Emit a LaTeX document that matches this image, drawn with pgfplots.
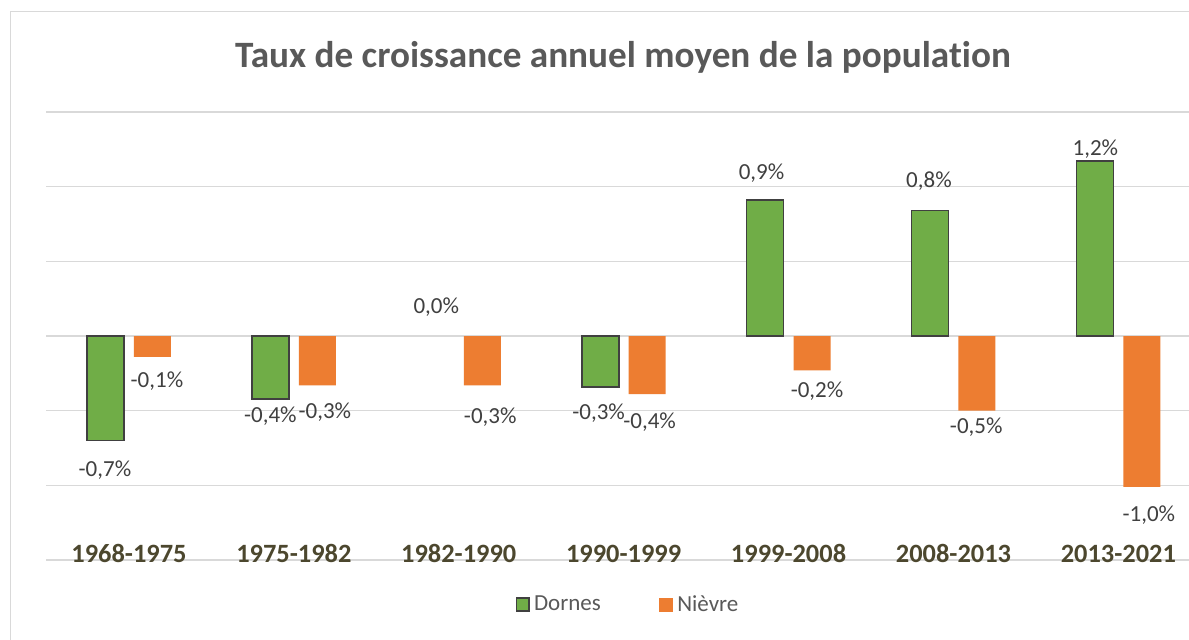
\documentclass[border=0pt]{standalone}
\usepackage{fontspec}
\setmainfont[Ligatures=NoCommon]{Carlito}
\usepackage{pgfplots}
\usepackage{pgfplotstable}
\pgfplotsset{compat=1.18}
\definecolor{dgreen}{HTML}{70AD47}
\definecolor{dorange}{HTML}{ED7D31}
\definecolor{bordergrey}{HTML}{404040}
\definecolor{gridgrey}{HTML}{D9D9D9}
\definecolor{labelgrey}{HTML}{404040}
\definecolor{titlegrey}{HTML}{595959}
\definecolor{catcol}{RGB}{76,71,46}

\pgfplotstableread{
x D N Ddx Ddy Ndx Ndy
0 -0.70 -0.14 -0.25 -18 2.25 -15.5
1 -0.42 -0.33 0 -12 3.75 -16.5
2 nan -0.33 0 0 4 -19
3 -0.34 -0.39 -0.75 -16.5 1.25 -17
4 0.91 -0.23 -1.75 10.5 2.5 -13.5
5 0.84 -0.50 -0.5 11.3 -0.35 -11.65
6 1.17 -1.01 0.25 2.85 3.5 -17.5
}\data

\newcommand{\lblfont}{\fontsize{11.5}{13}\selectfont}

\begin{document}
\begin{tikzpicture}
\useasboundingbox (0,0) rectangle (594.5pt,319.5pt);
\fill[white] (0,0) rectangle (594.5pt,319.5pt);
\clip (0,0) rectangle (594.5pt,319.5pt);
\draw[gridgrey, line width=0.6pt] (5.35pt,-5pt) -- (5.35pt,313.75pt) -- (600pt,313.75pt);
\node[font=\fontsize{18.6}{22}\selectfont\bfseries, text=titlegrey, anchor=base, inner sep=0pt] at (311.5pt,286pt) {Taux de croissance annuel moyen de la population};
\begin{axis}[
  at={(23.25pt,39.5pt)}, anchor=south west,
  scale only axis, width=577.15pt, height=224pt,
  xmin=-0.5, xmax=6.5, ymin=-1.5, ymax=1.5,
  ybar, bar width=18.5pt,
  axis line style={draw=none},
  tick style={draw=none},
  ytick={-1.5,-1,-0.5,0,0.5,1,1.5},
  yticklabels={},
  ymajorgrids, grid style={gridgrey, line width=0.7pt},
  xtick={0,1,2,3,4,5,6},
  xticklabels={1968-1975,1975-1982,1982-1990,1990-1999,1999-2008,2008-2013,2013-2021},
  xticklabel style={font=\fontsize{13.2}{15}\selectfont\bfseries, text=catcol, anchor=base, yshift=3pt},
  /pgf/number format/assume math mode=true,
  legend style={draw=none, fill=none, at={(0.5046,-0.0998)}, anchor=center, legend columns=2, font=\lblfont, text=titlegrey, /tikz/every even column/.append style={column sep=27pt}},
]
\addplot[fill=dgreen, draw=bordergrey, line width=0.85pt, bar shift=-11.75pt,
  legend image code/.code={\draw[fill=dgreen, draw=bordergrey, line width=0.85pt] (0.4pt,-3.2pt) rectangle (6.8pt,3.2pt);},
  point meta=y,
  nodes near coords={\pgfmathprintnumber[fixed,fixed zerofill,precision=1,use comma]{\pgfplotspointmeta}\%},
  visualization depends on={\thisrow{Ddx} \as \ldx},
  visualization depends on={\thisrow{Ddy} \as \ldy},
  nodes near coords style={anchor=base, xshift=\ldx pt, yshift=\ldy pt, font=\lblfont, text=labelgrey, inner sep=0pt},
] table[x=x,y=D]{\data};
\addlegendentry{Dornes}
\addplot[fill=dorange, draw=none, bar shift=11.75pt,
  legend image code/.code={\fill[dorange] (0pt,-3.6pt) rectangle (7.2pt,3.6pt);},
  point meta=y,
  nodes near coords={\pgfmathprintnumber[fixed,fixed zerofill,precision=1,use comma]{\pgfplotspointmeta}\%},
  visualization depends on={\thisrow{Ndx} \as \ldx},
  visualization depends on={\thisrow{Ndy} \as \ldy},
  nodes near coords style={anchor=base, xshift=\ldx pt, yshift=\ldy pt, font=\lblfont, text=labelgrey, inner sep=0pt},
] table[x=x,y=N]{\data};
\addlegendentry{Nièvre}
\addplot[draw=none, fill=none, bar shift=-11.75pt, forget plot,
  point meta=y,
  nodes near coords={\pgfmathprintnumber[fixed,fixed zerofill,precision=1,use comma]{\pgfplotspointmeta}\%},
  nodes near coords style={anchor=base, xshift=0.5pt, yshift=11.5pt, font=\lblfont, text=labelgrey, inner sep=0pt},
] coordinates {(2,0)};
\end{axis}
\end{tikzpicture}
\end{document}
